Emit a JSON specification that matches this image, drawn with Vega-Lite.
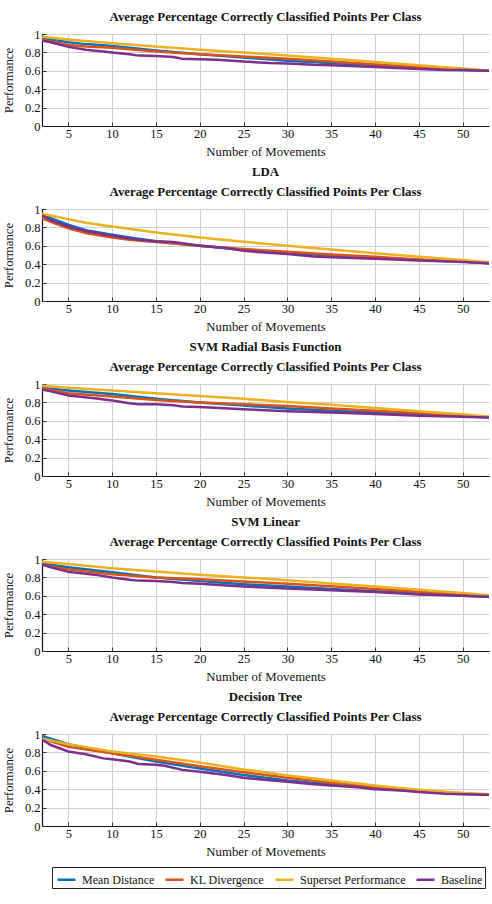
{
  "$schema": "https://vega.github.io/schema/vega-lite/v6.json",
  "background": "white",
  "padding": {"left": 2, "right": 3, "top": 11, "bottom": 5},
  "config": {
    "font": "Liberation Serif",
    "view": {"stroke": null},
    "concat": {"spacing": 7},
    "axis": {
      "grid": true,
      "gridColor": "#cfcfcf",
      "gridWidth": 1,
      "domainColor": "#111111",
      "domainWidth": 1.2,
      "ticks": true,
      "tickSize": -4,
      "tickColor": "#333333",
      "labelFont": "Liberation Serif",
      "labelFontSize": 12.5,
      "labelColor": "#111111",
      "titleFont": "Liberation Serif",
      "titleFontSize": 12.8,
      "titleFontWeight": "normal",
      "titleColor": "#111111"
    },
    "axisX": {"labelPadding": 5, "titlePadding": 6},
    "axisY": {"labelPadding": 6, "titlePadding": 9},
    "title": {
      "font": "Liberation Serif",
      "fontSize": 12.8,
      "fontWeight": "bold",
      "color": "#111111",
      "lineHeight": 20,
      "offset": 4
    }
  },
  "data": {
    "values": [
      {"clf": "kNN", "method": "Mean Distance", "n": 2, "p": 0.95},
      {"clf": "kNN", "method": "Mean Distance", "n": 3, "p": 0.94},
      {"clf": "kNN", "method": "Mean Distance", "n": 5, "p": 0.91},
      {"clf": "kNN", "method": "Mean Distance", "n": 7, "p": 0.89},
      {"clf": "kNN", "method": "Mean Distance", "n": 10, "p": 0.87},
      {"clf": "kNN", "method": "Mean Distance", "n": 15, "p": 0.82},
      {"clf": "kNN", "method": "Mean Distance", "n": 20, "p": 0.78},
      {"clf": "kNN", "method": "Mean Distance", "n": 25, "p": 0.745},
      {"clf": "kNN", "method": "Mean Distance", "n": 30, "p": 0.71},
      {"clf": "kNN", "method": "Mean Distance", "n": 35, "p": 0.685},
      {"clf": "kNN", "method": "Mean Distance", "n": 40, "p": 0.66},
      {"clf": "kNN", "method": "Mean Distance", "n": 45, "p": 0.635},
      {"clf": "kNN", "method": "Mean Distance", "n": 50, "p": 0.61},
      {"clf": "kNN", "method": "Mean Distance", "n": 53, "p": 0.6},
      {"clf": "kNN", "method": "KL Divergence", "n": 2, "p": 0.94},
      {"clf": "kNN", "method": "KL Divergence", "n": 3, "p": 0.92},
      {"clf": "kNN", "method": "KL Divergence", "n": 5, "p": 0.88},
      {"clf": "kNN", "method": "KL Divergence", "n": 7, "p": 0.865},
      {"clf": "kNN", "method": "KL Divergence", "n": 10, "p": 0.85},
      {"clf": "kNN", "method": "KL Divergence", "n": 15, "p": 0.81},
      {"clf": "kNN", "method": "KL Divergence", "n": 20, "p": 0.78},
      {"clf": "kNN", "method": "KL Divergence", "n": 25, "p": 0.755},
      {"clf": "kNN", "method": "KL Divergence", "n": 30, "p": 0.73},
      {"clf": "kNN", "method": "KL Divergence", "n": 35, "p": 0.7},
      {"clf": "kNN", "method": "KL Divergence", "n": 40, "p": 0.67},
      {"clf": "kNN", "method": "KL Divergence", "n": 45, "p": 0.64},
      {"clf": "kNN", "method": "KL Divergence", "n": 50, "p": 0.615},
      {"clf": "kNN", "method": "KL Divergence", "n": 53, "p": 0.6},
      {"clf": "kNN", "method": "Superset Performance", "n": 2, "p": 0.97},
      {"clf": "kNN", "method": "Superset Performance", "n": 5, "p": 0.94},
      {"clf": "kNN", "method": "Superset Performance", "n": 10, "p": 0.9},
      {"clf": "kNN", "method": "Superset Performance", "n": 15, "p": 0.865},
      {"clf": "kNN", "method": "Superset Performance", "n": 20, "p": 0.83},
      {"clf": "kNN", "method": "Superset Performance", "n": 25, "p": 0.8},
      {"clf": "kNN", "method": "Superset Performance", "n": 30, "p": 0.765},
      {"clf": "kNN", "method": "Superset Performance", "n": 35, "p": 0.73},
      {"clf": "kNN", "method": "Superset Performance", "n": 40, "p": 0.695},
      {"clf": "kNN", "method": "Superset Performance", "n": 45, "p": 0.66},
      {"clf": "kNN", "method": "Superset Performance", "n": 50, "p": 0.625},
      {"clf": "kNN", "method": "Superset Performance", "n": 53, "p": 0.6},
      {"clf": "kNN", "method": "Baseline", "n": 2, "p": 0.93},
      {"clf": "kNN", "method": "Baseline", "n": 3, "p": 0.91},
      {"clf": "kNN", "method": "Baseline", "n": 5, "p": 0.86},
      {"clf": "kNN", "method": "Baseline", "n": 7, "p": 0.83},
      {"clf": "kNN", "method": "Baseline", "n": 9, "p": 0.81},
      {"clf": "kNN", "method": "Baseline", "n": 10, "p": 0.8},
      {"clf": "kNN", "method": "Baseline", "n": 12, "p": 0.78},
      {"clf": "kNN", "method": "Baseline", "n": 13, "p": 0.765},
      {"clf": "kNN", "method": "Baseline", "n": 15, "p": 0.76},
      {"clf": "kNN", "method": "Baseline", "n": 17, "p": 0.75},
      {"clf": "kNN", "method": "Baseline", "n": 18, "p": 0.73},
      {"clf": "kNN", "method": "Baseline", "n": 20, "p": 0.725},
      {"clf": "kNN", "method": "Baseline", "n": 22, "p": 0.72},
      {"clf": "kNN", "method": "Baseline", "n": 25, "p": 0.7},
      {"clf": "kNN", "method": "Baseline", "n": 28, "p": 0.685},
      {"clf": "kNN", "method": "Baseline", "n": 30, "p": 0.68},
      {"clf": "kNN", "method": "Baseline", "n": 33, "p": 0.665},
      {"clf": "kNN", "method": "Baseline", "n": 35, "p": 0.66},
      {"clf": "kNN", "method": "Baseline", "n": 40, "p": 0.64},
      {"clf": "kNN", "method": "Baseline", "n": 45, "p": 0.62},
      {"clf": "kNN", "method": "Baseline", "n": 48, "p": 0.61},
      {"clf": "kNN", "method": "Baseline", "n": 50, "p": 0.61},
      {"clf": "kNN", "method": "Baseline", "n": 53, "p": 0.6},

      {"clf": "LDA", "method": "Mean Distance", "n": 2, "p": 0.94},
      {"clf": "LDA", "method": "Mean Distance", "n": 3, "p": 0.9},
      {"clf": "LDA", "method": "Mean Distance", "n": 5, "p": 0.83},
      {"clf": "LDA", "method": "Mean Distance", "n": 7, "p": 0.77},
      {"clf": "LDA", "method": "Mean Distance", "n": 10, "p": 0.72},
      {"clf": "LDA", "method": "Mean Distance", "n": 12, "p": 0.69},
      {"clf": "LDA", "method": "Mean Distance", "n": 15, "p": 0.65},
      {"clf": "LDA", "method": "Mean Distance", "n": 20, "p": 0.6},
      {"clf": "LDA", "method": "Mean Distance", "n": 25, "p": 0.555},
      {"clf": "LDA", "method": "Mean Distance", "n": 30, "p": 0.525},
      {"clf": "LDA", "method": "Mean Distance", "n": 35, "p": 0.495},
      {"clf": "LDA", "method": "Mean Distance", "n": 40, "p": 0.47},
      {"clf": "LDA", "method": "Mean Distance", "n": 45, "p": 0.445},
      {"clf": "LDA", "method": "Mean Distance", "n": 50, "p": 0.43},
      {"clf": "LDA", "method": "Mean Distance", "n": 53, "p": 0.41},
      {"clf": "LDA", "method": "KL Divergence", "n": 2, "p": 0.9},
      {"clf": "LDA", "method": "KL Divergence", "n": 3, "p": 0.86},
      {"clf": "LDA", "method": "KL Divergence", "n": 5, "p": 0.79},
      {"clf": "LDA", "method": "KL Divergence", "n": 7, "p": 0.74},
      {"clf": "LDA", "method": "KL Divergence", "n": 10, "p": 0.69},
      {"clf": "LDA", "method": "KL Divergence", "n": 12, "p": 0.665},
      {"clf": "LDA", "method": "KL Divergence", "n": 15, "p": 0.64},
      {"clf": "LDA", "method": "KL Divergence", "n": 20, "p": 0.6},
      {"clf": "LDA", "method": "KL Divergence", "n": 25, "p": 0.565},
      {"clf": "LDA", "method": "KL Divergence", "n": 30, "p": 0.535},
      {"clf": "LDA", "method": "KL Divergence", "n": 35, "p": 0.505},
      {"clf": "LDA", "method": "KL Divergence", "n": 40, "p": 0.48},
      {"clf": "LDA", "method": "KL Divergence", "n": 45, "p": 0.45},
      {"clf": "LDA", "method": "KL Divergence", "n": 50, "p": 0.43},
      {"clf": "LDA", "method": "KL Divergence", "n": 53, "p": 0.41},
      {"clf": "LDA", "method": "Superset Performance", "n": 2, "p": 0.95},
      {"clf": "LDA", "method": "Superset Performance", "n": 3, "p": 0.93},
      {"clf": "LDA", "method": "Superset Performance", "n": 5, "p": 0.89},
      {"clf": "LDA", "method": "Superset Performance", "n": 7, "p": 0.85},
      {"clf": "LDA", "method": "Superset Performance", "n": 10, "p": 0.81},
      {"clf": "LDA", "method": "Superset Performance", "n": 15, "p": 0.745},
      {"clf": "LDA", "method": "Superset Performance", "n": 20, "p": 0.69},
      {"clf": "LDA", "method": "Superset Performance", "n": 25, "p": 0.645},
      {"clf": "LDA", "method": "Superset Performance", "n": 30, "p": 0.6},
      {"clf": "LDA", "method": "Superset Performance", "n": 35, "p": 0.56},
      {"clf": "LDA", "method": "Superset Performance", "n": 40, "p": 0.52},
      {"clf": "LDA", "method": "Superset Performance", "n": 45, "p": 0.48},
      {"clf": "LDA", "method": "Superset Performance", "n": 50, "p": 0.445},
      {"clf": "LDA", "method": "Superset Performance", "n": 53, "p": 0.42},
      {"clf": "LDA", "method": "Baseline", "n": 2, "p": 0.93},
      {"clf": "LDA", "method": "Baseline", "n": 3, "p": 0.88},
      {"clf": "LDA", "method": "Baseline", "n": 5, "p": 0.81},
      {"clf": "LDA", "method": "Baseline", "n": 7, "p": 0.76},
      {"clf": "LDA", "method": "Baseline", "n": 10, "p": 0.71},
      {"clf": "LDA", "method": "Baseline", "n": 13, "p": 0.665},
      {"clf": "LDA", "method": "Baseline", "n": 15, "p": 0.65},
      {"clf": "LDA", "method": "Baseline", "n": 17, "p": 0.64},
      {"clf": "LDA", "method": "Baseline", "n": 20, "p": 0.6},
      {"clf": "LDA", "method": "Baseline", "n": 23, "p": 0.575},
      {"clf": "LDA", "method": "Baseline", "n": 25, "p": 0.545},
      {"clf": "LDA", "method": "Baseline", "n": 30, "p": 0.51},
      {"clf": "LDA", "method": "Baseline", "n": 33, "p": 0.485},
      {"clf": "LDA", "method": "Baseline", "n": 35, "p": 0.475},
      {"clf": "LDA", "method": "Baseline", "n": 40, "p": 0.46},
      {"clf": "LDA", "method": "Baseline", "n": 45, "p": 0.44},
      {"clf": "LDA", "method": "Baseline", "n": 50, "p": 0.425},
      {"clf": "LDA", "method": "Baseline", "n": 53, "p": 0.41},

      {"clf": "SVM Radial Basis Function", "method": "Mean Distance", "n": 2, "p": 0.96},
      {"clf": "SVM Radial Basis Function", "method": "Mean Distance", "n": 5, "p": 0.93},
      {"clf": "SVM Radial Basis Function", "method": "Mean Distance", "n": 10, "p": 0.89},
      {"clf": "SVM Radial Basis Function", "method": "Mean Distance", "n": 15, "p": 0.84},
      {"clf": "SVM Radial Basis Function", "method": "Mean Distance", "n": 20, "p": 0.8},
      {"clf": "SVM Radial Basis Function", "method": "Mean Distance", "n": 25, "p": 0.765},
      {"clf": "SVM Radial Basis Function", "method": "Mean Distance", "n": 30, "p": 0.735},
      {"clf": "SVM Radial Basis Function", "method": "Mean Distance", "n": 35, "p": 0.71},
      {"clf": "SVM Radial Basis Function", "method": "Mean Distance", "n": 40, "p": 0.69},
      {"clf": "SVM Radial Basis Function", "method": "Mean Distance", "n": 45, "p": 0.67},
      {"clf": "SVM Radial Basis Function", "method": "Mean Distance", "n": 50, "p": 0.65},
      {"clf": "SVM Radial Basis Function", "method": "Mean Distance", "n": 53, "p": 0.635},
      {"clf": "SVM Radial Basis Function", "method": "KL Divergence", "n": 2, "p": 0.95},
      {"clf": "SVM Radial Basis Function", "method": "KL Divergence", "n": 5, "p": 0.9},
      {"clf": "SVM Radial Basis Function", "method": "KL Divergence", "n": 10, "p": 0.865},
      {"clf": "SVM Radial Basis Function", "method": "KL Divergence", "n": 15, "p": 0.825},
      {"clf": "SVM Radial Basis Function", "method": "KL Divergence", "n": 20, "p": 0.8},
      {"clf": "SVM Radial Basis Function", "method": "KL Divergence", "n": 25, "p": 0.78},
      {"clf": "SVM Radial Basis Function", "method": "KL Divergence", "n": 30, "p": 0.76},
      {"clf": "SVM Radial Basis Function", "method": "KL Divergence", "n": 35, "p": 0.735},
      {"clf": "SVM Radial Basis Function", "method": "KL Divergence", "n": 40, "p": 0.71},
      {"clf": "SVM Radial Basis Function", "method": "KL Divergence", "n": 45, "p": 0.685},
      {"clf": "SVM Radial Basis Function", "method": "KL Divergence", "n": 50, "p": 0.66},
      {"clf": "SVM Radial Basis Function", "method": "KL Divergence", "n": 53, "p": 0.64},
      {"clf": "SVM Radial Basis Function", "method": "Superset Performance", "n": 2, "p": 0.98},
      {"clf": "SVM Radial Basis Function", "method": "Superset Performance", "n": 5, "p": 0.96},
      {"clf": "SVM Radial Basis Function", "method": "Superset Performance", "n": 10, "p": 0.93},
      {"clf": "SVM Radial Basis Function", "method": "Superset Performance", "n": 15, "p": 0.9},
      {"clf": "SVM Radial Basis Function", "method": "Superset Performance", "n": 20, "p": 0.87},
      {"clf": "SVM Radial Basis Function", "method": "Superset Performance", "n": 25, "p": 0.84},
      {"clf": "SVM Radial Basis Function", "method": "Superset Performance", "n": 30, "p": 0.805},
      {"clf": "SVM Radial Basis Function", "method": "Superset Performance", "n": 35, "p": 0.775},
      {"clf": "SVM Radial Basis Function", "method": "Superset Performance", "n": 40, "p": 0.74},
      {"clf": "SVM Radial Basis Function", "method": "Superset Performance", "n": 45, "p": 0.705},
      {"clf": "SVM Radial Basis Function", "method": "Superset Performance", "n": 50, "p": 0.67},
      {"clf": "SVM Radial Basis Function", "method": "Superset Performance", "n": 53, "p": 0.645},
      {"clf": "SVM Radial Basis Function", "method": "Baseline", "n": 2, "p": 0.94},
      {"clf": "SVM Radial Basis Function", "method": "Baseline", "n": 3, "p": 0.92},
      {"clf": "SVM Radial Basis Function", "method": "Baseline", "n": 5, "p": 0.875},
      {"clf": "SVM Radial Basis Function", "method": "Baseline", "n": 8, "p": 0.845},
      {"clf": "SVM Radial Basis Function", "method": "Baseline", "n": 10, "p": 0.82},
      {"clf": "SVM Radial Basis Function", "method": "Baseline", "n": 12, "p": 0.79},
      {"clf": "SVM Radial Basis Function", "method": "Baseline", "n": 13, "p": 0.78},
      {"clf": "SVM Radial Basis Function", "method": "Baseline", "n": 15, "p": 0.78},
      {"clf": "SVM Radial Basis Function", "method": "Baseline", "n": 17, "p": 0.77},
      {"clf": "SVM Radial Basis Function", "method": "Baseline", "n": 18, "p": 0.755},
      {"clf": "SVM Radial Basis Function", "method": "Baseline", "n": 20, "p": 0.75},
      {"clf": "SVM Radial Basis Function", "method": "Baseline", "n": 25, "p": 0.725},
      {"clf": "SVM Radial Basis Function", "method": "Baseline", "n": 30, "p": 0.705},
      {"clf": "SVM Radial Basis Function", "method": "Baseline", "n": 33, "p": 0.695},
      {"clf": "SVM Radial Basis Function", "method": "Baseline", "n": 35, "p": 0.69},
      {"clf": "SVM Radial Basis Function", "method": "Baseline", "n": 40, "p": 0.675},
      {"clf": "SVM Radial Basis Function", "method": "Baseline", "n": 45, "p": 0.655},
      {"clf": "SVM Radial Basis Function", "method": "Baseline", "n": 50, "p": 0.645},
      {"clf": "SVM Radial Basis Function", "method": "Baseline", "n": 53, "p": 0.635},

      {"clf": "SVM Linear", "method": "Mean Distance", "n": 2, "p": 0.95},
      {"clf": "SVM Linear", "method": "Mean Distance", "n": 5, "p": 0.91},
      {"clf": "SVM Linear", "method": "Mean Distance", "n": 10, "p": 0.855},
      {"clf": "SVM Linear", "method": "Mean Distance", "n": 15, "p": 0.8},
      {"clf": "SVM Linear", "method": "Mean Distance", "n": 20, "p": 0.76},
      {"clf": "SVM Linear", "method": "Mean Distance", "n": 25, "p": 0.725},
      {"clf": "SVM Linear", "method": "Mean Distance", "n": 30, "p": 0.7},
      {"clf": "SVM Linear", "method": "Mean Distance", "n": 35, "p": 0.675},
      {"clf": "SVM Linear", "method": "Mean Distance", "n": 40, "p": 0.65},
      {"clf": "SVM Linear", "method": "Mean Distance", "n": 45, "p": 0.625},
      {"clf": "SVM Linear", "method": "Mean Distance", "n": 50, "p": 0.6},
      {"clf": "SVM Linear", "method": "Mean Distance", "n": 53, "p": 0.59},
      {"clf": "SVM Linear", "method": "KL Divergence", "n": 2, "p": 0.94},
      {"clf": "SVM Linear", "method": "KL Divergence", "n": 5, "p": 0.885},
      {"clf": "SVM Linear", "method": "KL Divergence", "n": 10, "p": 0.835},
      {"clf": "SVM Linear", "method": "KL Divergence", "n": 15, "p": 0.8},
      {"clf": "SVM Linear", "method": "KL Divergence", "n": 20, "p": 0.78},
      {"clf": "SVM Linear", "method": "KL Divergence", "n": 25, "p": 0.755},
      {"clf": "SVM Linear", "method": "KL Divergence", "n": 30, "p": 0.73},
      {"clf": "SVM Linear", "method": "KL Divergence", "n": 35, "p": 0.705},
      {"clf": "SVM Linear", "method": "KL Divergence", "n": 40, "p": 0.675},
      {"clf": "SVM Linear", "method": "KL Divergence", "n": 45, "p": 0.645},
      {"clf": "SVM Linear", "method": "KL Divergence", "n": 50, "p": 0.615},
      {"clf": "SVM Linear", "method": "KL Divergence", "n": 53, "p": 0.595},
      {"clf": "SVM Linear", "method": "Superset Performance", "n": 2, "p": 0.97},
      {"clf": "SVM Linear", "method": "Superset Performance", "n": 5, "p": 0.945},
      {"clf": "SVM Linear", "method": "Superset Performance", "n": 10, "p": 0.9},
      {"clf": "SVM Linear", "method": "Superset Performance", "n": 15, "p": 0.865},
      {"clf": "SVM Linear", "method": "Superset Performance", "n": 20, "p": 0.83},
      {"clf": "SVM Linear", "method": "Superset Performance", "n": 25, "p": 0.8},
      {"clf": "SVM Linear", "method": "Superset Performance", "n": 30, "p": 0.77},
      {"clf": "SVM Linear", "method": "Superset Performance", "n": 35, "p": 0.735},
      {"clf": "SVM Linear", "method": "Superset Performance", "n": 40, "p": 0.7},
      {"clf": "SVM Linear", "method": "Superset Performance", "n": 45, "p": 0.665},
      {"clf": "SVM Linear", "method": "Superset Performance", "n": 50, "p": 0.63},
      {"clf": "SVM Linear", "method": "Superset Performance", "n": 53, "p": 0.605},
      {"clf": "SVM Linear", "method": "Baseline", "n": 2, "p": 0.94},
      {"clf": "SVM Linear", "method": "Baseline", "n": 3, "p": 0.91},
      {"clf": "SVM Linear", "method": "Baseline", "n": 5, "p": 0.86},
      {"clf": "SVM Linear", "method": "Baseline", "n": 8, "p": 0.83},
      {"clf": "SVM Linear", "method": "Baseline", "n": 10, "p": 0.8},
      {"clf": "SVM Linear", "method": "Baseline", "n": 12, "p": 0.775},
      {"clf": "SVM Linear", "method": "Baseline", "n": 13, "p": 0.765},
      {"clf": "SVM Linear", "method": "Baseline", "n": 15, "p": 0.76},
      {"clf": "SVM Linear", "method": "Baseline", "n": 17, "p": 0.75},
      {"clf": "SVM Linear", "method": "Baseline", "n": 18, "p": 0.74},
      {"clf": "SVM Linear", "method": "Baseline", "n": 20, "p": 0.73},
      {"clf": "SVM Linear", "method": "Baseline", "n": 25, "p": 0.7},
      {"clf": "SVM Linear", "method": "Baseline", "n": 30, "p": 0.68},
      {"clf": "SVM Linear", "method": "Baseline", "n": 35, "p": 0.66},
      {"clf": "SVM Linear", "method": "Baseline", "n": 40, "p": 0.64},
      {"clf": "SVM Linear", "method": "Baseline", "n": 45, "p": 0.615},
      {"clf": "SVM Linear", "method": "Baseline", "n": 48, "p": 0.605},
      {"clf": "SVM Linear", "method": "Baseline", "n": 50, "p": 0.6},
      {"clf": "SVM Linear", "method": "Baseline", "n": 53, "p": 0.59},

      {"clf": "Decision Tree", "method": "Mean Distance", "n": 2, "p": 0.98},
      {"clf": "Decision Tree", "method": "Mean Distance", "n": 3, "p": 0.95},
      {"clf": "Decision Tree", "method": "Mean Distance", "n": 5, "p": 0.89},
      {"clf": "Decision Tree", "method": "Mean Distance", "n": 10, "p": 0.79},
      {"clf": "Decision Tree", "method": "Mean Distance", "n": 15, "p": 0.7},
      {"clf": "Decision Tree", "method": "Mean Distance", "n": 20, "p": 0.625},
      {"clf": "Decision Tree", "method": "Mean Distance", "n": 25, "p": 0.555},
      {"clf": "Decision Tree", "method": "Mean Distance", "n": 30, "p": 0.495},
      {"clf": "Decision Tree", "method": "Mean Distance", "n": 35, "p": 0.45},
      {"clf": "Decision Tree", "method": "Mean Distance", "n": 40, "p": 0.41},
      {"clf": "Decision Tree", "method": "Mean Distance", "n": 45, "p": 0.375},
      {"clf": "Decision Tree", "method": "Mean Distance", "n": 50, "p": 0.35},
      {"clf": "Decision Tree", "method": "Mean Distance", "n": 53, "p": 0.34},
      {"clf": "Decision Tree", "method": "KL Divergence", "n": 2, "p": 0.94},
      {"clf": "Decision Tree", "method": "KL Divergence", "n": 3, "p": 0.92},
      {"clf": "Decision Tree", "method": "KL Divergence", "n": 5, "p": 0.86},
      {"clf": "Decision Tree", "method": "KL Divergence", "n": 10, "p": 0.79},
      {"clf": "Decision Tree", "method": "KL Divergence", "n": 15, "p": 0.72},
      {"clf": "Decision Tree", "method": "KL Divergence", "n": 20, "p": 0.65},
      {"clf": "Decision Tree", "method": "KL Divergence", "n": 25, "p": 0.585},
      {"clf": "Decision Tree", "method": "KL Divergence", "n": 30, "p": 0.525},
      {"clf": "Decision Tree", "method": "KL Divergence", "n": 35, "p": 0.47},
      {"clf": "Decision Tree", "method": "KL Divergence", "n": 40, "p": 0.425},
      {"clf": "Decision Tree", "method": "KL Divergence", "n": 45, "p": 0.385},
      {"clf": "Decision Tree", "method": "KL Divergence", "n": 50, "p": 0.355},
      {"clf": "Decision Tree", "method": "KL Divergence", "n": 53, "p": 0.34},
      {"clf": "Decision Tree", "method": "Superset Performance", "n": 2, "p": 0.95},
      {"clf": "Decision Tree", "method": "Superset Performance", "n": 3, "p": 0.93},
      {"clf": "Decision Tree", "method": "Superset Performance", "n": 5, "p": 0.89},
      {"clf": "Decision Tree", "method": "Superset Performance", "n": 10, "p": 0.81},
      {"clf": "Decision Tree", "method": "Superset Performance", "n": 15, "p": 0.755},
      {"clf": "Decision Tree", "method": "Superset Performance", "n": 20, "p": 0.69},
      {"clf": "Decision Tree", "method": "Superset Performance", "n": 25, "p": 0.615},
      {"clf": "Decision Tree", "method": "Superset Performance", "n": 30, "p": 0.55},
      {"clf": "Decision Tree", "method": "Superset Performance", "n": 35, "p": 0.495},
      {"clf": "Decision Tree", "method": "Superset Performance", "n": 40, "p": 0.44},
      {"clf": "Decision Tree", "method": "Superset Performance", "n": 45, "p": 0.395},
      {"clf": "Decision Tree", "method": "Superset Performance", "n": 50, "p": 0.36},
      {"clf": "Decision Tree", "method": "Superset Performance", "n": 53, "p": 0.345},
      {"clf": "Decision Tree", "method": "Baseline", "n": 2, "p": 0.94},
      {"clf": "Decision Tree", "method": "Baseline", "n": 3, "p": 0.88},
      {"clf": "Decision Tree", "method": "Baseline", "n": 5, "p": 0.81},
      {"clf": "Decision Tree", "method": "Baseline", "n": 7, "p": 0.78},
      {"clf": "Decision Tree", "method": "Baseline", "n": 9, "p": 0.735},
      {"clf": "Decision Tree", "method": "Baseline", "n": 10, "p": 0.725},
      {"clf": "Decision Tree", "method": "Baseline", "n": 12, "p": 0.7},
      {"clf": "Decision Tree", "method": "Baseline", "n": 13, "p": 0.675},
      {"clf": "Decision Tree", "method": "Baseline", "n": 15, "p": 0.665},
      {"clf": "Decision Tree", "method": "Baseline", "n": 16, "p": 0.655},
      {"clf": "Decision Tree", "method": "Baseline", "n": 18, "p": 0.61},
      {"clf": "Decision Tree", "method": "Baseline", "n": 20, "p": 0.59},
      {"clf": "Decision Tree", "method": "Baseline", "n": 23, "p": 0.555},
      {"clf": "Decision Tree", "method": "Baseline", "n": 25, "p": 0.525},
      {"clf": "Decision Tree", "method": "Baseline", "n": 27, "p": 0.505},
      {"clf": "Decision Tree", "method": "Baseline", "n": 30, "p": 0.48},
      {"clf": "Decision Tree", "method": "Baseline", "n": 33, "p": 0.455},
      {"clf": "Decision Tree", "method": "Baseline", "n": 35, "p": 0.44},
      {"clf": "Decision Tree", "method": "Baseline", "n": 38, "p": 0.42},
      {"clf": "Decision Tree", "method": "Baseline", "n": 40, "p": 0.4},
      {"clf": "Decision Tree", "method": "Baseline", "n": 43, "p": 0.385},
      {"clf": "Decision Tree", "method": "Baseline", "n": 45, "p": 0.37},
      {"clf": "Decision Tree", "method": "Baseline", "n": 48, "p": 0.35},
      {"clf": "Decision Tree", "method": "Baseline", "n": 50, "p": 0.345},
      {"clf": "Decision Tree", "method": "Baseline", "n": 53, "p": 0.34}
    ]
  },
  "vconcat": [
    {
      "width": 447, "height": 92,
      "title": {"text": "Average Percentage Correctly Classified Points Per Class"},
      "transform": [{"filter": "datum.clf === 'kNN'"}],
      "mark": {"type": "line", "strokeWidth": 2.5, "clip": true},
      "encoding": {
        "x": {"field": "n", "type": "quantitative", "scale": {"domain": [2, 53], "nice": false, "zero": false}, "axis": {"values": [5, 10, 15, 20, 25, 30, 35, 40, 45, 50], "title": "Number of Movements"}},
        "y": {"field": "p", "type": "quantitative", "scale": {"domain": [0, 1], "nice": false}, "axis": {"values": [0, 0.2, 0.4, 0.6, 0.8, 1], "format": "~g", "title": "Performance"}},
        "color": {"field": "method", "type": "nominal", "sort": null, "scale": {"domain": ["Mean Distance", "KL Divergence", "Superset Performance", "Baseline"], "range": ["#0072BD", "#D95319", "#EDB120", "#7E2F8E"]}, "legend": {"orient": "none", "legendX": 10, "legendY": 833, "direction": "horizontal", "title": null, "strokeColor": "#222222", "padding": 2, "symbolType": "stroke", "symbolStrokeWidth": 2.5, "symbolSize": 324, "labelFontSize": 12, "labelOffset": 5, "labelFont": "Liberation Serif", "labelColor": "#111111", "columnPadding": 5, "symbolOffset": 2}}
      }
    },
    {
      "width": 447, "height": 92,
      "title": {"text": ["LDA", "Average Percentage Correctly Classified Points Per Class"]},
      "transform": [{"filter": "datum.clf === 'LDA'"}],
      "mark": {"type": "line", "strokeWidth": 2.5, "clip": true},
      "encoding": {
        "x": {"field": "n", "type": "quantitative", "scale": {"domain": [2, 53], "nice": false, "zero": false}, "axis": {"values": [5, 10, 15, 20, 25, 30, 35, 40, 45, 50], "title": "Number of Movements"}},
        "y": {"field": "p", "type": "quantitative", "scale": {"domain": [0, 1], "nice": false}, "axis": {"values": [0, 0.2, 0.4, 0.6, 0.8, 1], "format": "~g", "title": "Performance"}},
        "color": {"field": "method", "type": "nominal", "sort": null, "scale": {"domain": ["Mean Distance", "KL Divergence", "Superset Performance", "Baseline"], "range": ["#0072BD", "#D95319", "#EDB120", "#7E2F8E"]}, "legend": {"orient": "none", "legendX": 10, "legendY": 833, "direction": "horizontal", "title": null, "strokeColor": "#222222", "padding": 2, "symbolType": "stroke", "symbolStrokeWidth": 2.5, "symbolSize": 324, "labelFontSize": 12, "labelOffset": 5, "labelFont": "Liberation Serif", "labelColor": "#111111", "columnPadding": 5, "symbolOffset": 2}}
      }
    },
    {
      "width": 447, "height": 92,
      "title": {"text": ["SVM Radial Basis Function", "Average Percentage Correctly Classified Points Per Class"]},
      "transform": [{"filter": "datum.clf === 'SVM Radial Basis Function'"}],
      "mark": {"type": "line", "strokeWidth": 2.5, "clip": true},
      "encoding": {
        "x": {"field": "n", "type": "quantitative", "scale": {"domain": [2, 53], "nice": false, "zero": false}, "axis": {"values": [5, 10, 15, 20, 25, 30, 35, 40, 45, 50], "title": "Number of Movements"}},
        "y": {"field": "p", "type": "quantitative", "scale": {"domain": [0, 1], "nice": false}, "axis": {"values": [0, 0.2, 0.4, 0.6, 0.8, 1], "format": "~g", "title": "Performance"}},
        "color": {"field": "method", "type": "nominal", "sort": null, "scale": {"domain": ["Mean Distance", "KL Divergence", "Superset Performance", "Baseline"], "range": ["#0072BD", "#D95319", "#EDB120", "#7E2F8E"]}, "legend": {"orient": "none", "legendX": 10, "legendY": 833, "direction": "horizontal", "title": null, "strokeColor": "#222222", "padding": 2, "symbolType": "stroke", "symbolStrokeWidth": 2.5, "symbolSize": 324, "labelFontSize": 12, "labelOffset": 5, "labelFont": "Liberation Serif", "labelColor": "#111111", "columnPadding": 5, "symbolOffset": 2}}
      }
    },
    {
      "width": 447, "height": 92,
      "title": {"text": ["SVM Linear", "Average Percentage Correctly Classified Points Per Class"]},
      "transform": [{"filter": "datum.clf === 'SVM Linear'"}],
      "mark": {"type": "line", "strokeWidth": 2.5, "clip": true},
      "encoding": {
        "x": {"field": "n", "type": "quantitative", "scale": {"domain": [2, 53], "nice": false, "zero": false}, "axis": {"values": [5, 10, 15, 20, 25, 30, 35, 40, 45, 50], "title": "Number of Movements"}},
        "y": {"field": "p", "type": "quantitative", "scale": {"domain": [0, 1], "nice": false}, "axis": {"values": [0, 0.2, 0.4, 0.6, 0.8, 1], "format": "~g", "title": "Performance"}},
        "color": {"field": "method", "type": "nominal", "sort": null, "scale": {"domain": ["Mean Distance", "KL Divergence", "Superset Performance", "Baseline"], "range": ["#0072BD", "#D95319", "#EDB120", "#7E2F8E"]}, "legend": {"orient": "none", "legendX": 10, "legendY": 833, "direction": "horizontal", "title": null, "strokeColor": "#222222", "padding": 2, "symbolType": "stroke", "symbolStrokeWidth": 2.5, "symbolSize": 324, "labelFontSize": 12, "labelOffset": 5, "labelFont": "Liberation Serif", "labelColor": "#111111", "columnPadding": 5, "symbolOffset": 2}}
      }
    },
    {
      "width": 447, "height": 92,
      "title": {"text": ["Decision Tree", "Average Percentage Correctly Classified Points Per Class"]},
      "transform": [{"filter": "datum.clf === 'Decision Tree'"}],
      "mark": {"type": "line", "strokeWidth": 2.5, "clip": true},
      "encoding": {
        "x": {"field": "n", "type": "quantitative", "scale": {"domain": [2, 53], "nice": false, "zero": false}, "axis": {"values": [5, 10, 15, 20, 25, 30, 35, 40, 45, 50], "title": "Number of Movements"}},
        "y": {"field": "p", "type": "quantitative", "scale": {"domain": [0, 1], "nice": false}, "axis": {"values": [0, 0.2, 0.4, 0.6, 0.8, 1], "format": "~g", "title": "Performance"}},
        "color": {"field": "method", "type": "nominal", "sort": null, "scale": {"domain": ["Mean Distance", "KL Divergence", "Superset Performance", "Baseline"], "range": ["#0072BD", "#D95319", "#EDB120", "#7E2F8E"]}, "legend": {"orient": "none", "legendX": 10, "legendY": 833, "direction": "horizontal", "title": null, "strokeColor": "#222222", "padding": 2, "symbolType": "stroke", "symbolStrokeWidth": 2.5, "symbolSize": 324, "labelFontSize": 12, "labelOffset": 5, "labelFont": "Liberation Serif", "labelColor": "#111111", "columnPadding": 5, "symbolOffset": 2}}
      }
    }
  ]
}
